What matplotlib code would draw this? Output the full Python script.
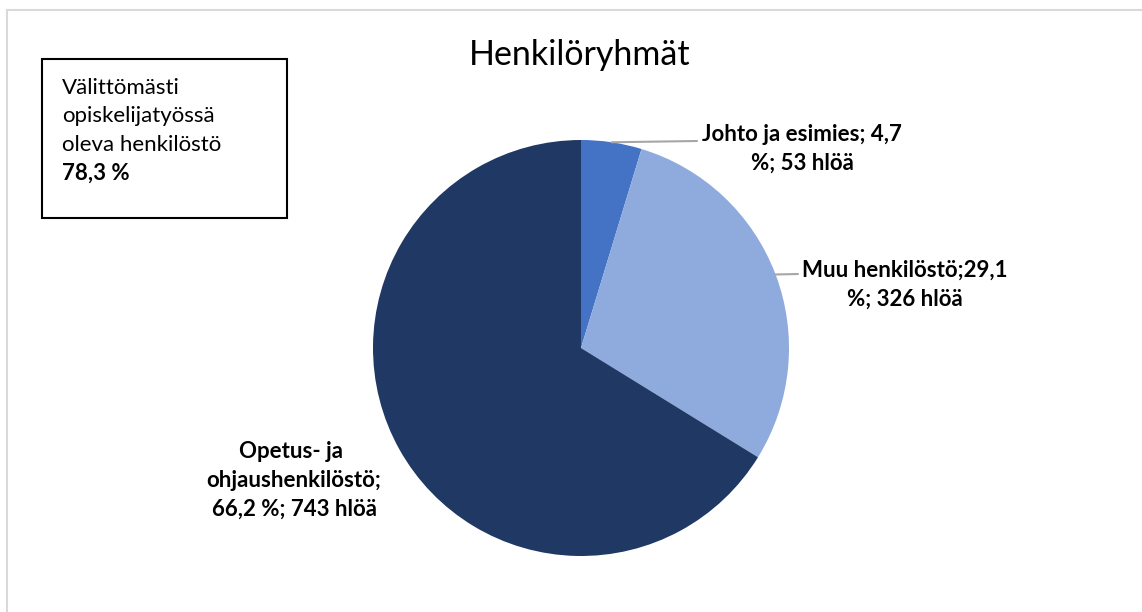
import matplotlib
matplotlib.use('Agg')
import matplotlib.pyplot as plt
import numpy as np
from matplotlib.patches import Rectangle
from matplotlib.lines import Line2D

# data
names = ['Johto ja esimies', 'Muu henkilöstö', 'Opetus- ja ohjaushenkilöstö']
shares = [4.7, 29.1, 66.2]
counts = [53, 326, 743]
colors = ['#4472C4', '#8FAADC', '#203864']
label_lines = [
    ['Johto ja esimies; 4,7', '%; 53 hlöä'],
    ['Muu henkilöstö;29,1', '%; 326 hlöä'],
    ['Opetus- ja ', 'ohjaushenkilöstö;', '66,2 %; 743 hlöä'],
]
box_lines = ['Välittömästi', 'opiskelijatyössä', 'oleva henkilöstö']
direct_share = '78,3 %'
title = 'Henkilöryhmät'

W, H = 1142, 612
plt.rcParams['font.family'] = ['Lato', 'DejaVu Sans']

fig = plt.figure(figsize=(W / 100, H / 100), dpi=100)


def px(x, y):
    # pixel coords from top-left -> figure fraction
    return x / W, 1 - y / H


# outer chart frame (only top/left visible)
fig.add_artist(Line2D([7 / W, 7 / W], [0, 1 - 9.5 / H], color='#D9D9D9', lw=1.5))
fig.add_artist(Line2D([7 / W, 1], [1 - 9.5 / H, 1 - 9.5 / H], color='#D9D9D9', lw=1.5))

# pie
cx, cy, r = 581, 348, 208
ax = fig.add_axes([(cx - r) / W, (H - cy - r) / H, 2 * r / W, 2 * r / H])
ax.pie(shares, colors=colors, startangle=90, counterclock=False, radius=1,
       wedgeprops=dict(linewidth=0))
ax.set_xlim(-1, 1)
ax.set_ylim(-1, 1)
ax.set_aspect('equal')
ax.axis('off')

# leader lines from slice mid-angles
cum = np.cumsum(shares) - np.array(shares) / 2
mids = np.deg2rad(90 - cum / 100 * 360)
leader_ends = [(697, 141), (798, 274)]
for i, end in enumerate(leader_ends):
    ax.annotate('', xy=(np.cos(mids[i]), np.sin(mids[i])), xycoords='data',
                xytext=(end[0], H - end[1]), textcoords='figure pixels',
                arrowprops=dict(arrowstyle='-', color='#A6A6A6', lw=1.5,
                                shrinkA=0, shrinkB=0))

# data labels: centre x and first baseline
label_pos = [(802, 141), (905, 277), (294, 458)]
line_step = 29
for lines, (x, y) in zip(label_lines, label_pos):
    for k, line in enumerate(lines):
        fig.text(*px(x, y + k * line_step), line, ha='center', va='baseline',
                 fontsize=16, fontweight='bold', color='black')

# title
fig.text(*px(580, 65), title, ha='center', va='baseline', fontsize=24.5,
         color='black')

# info box
fig.add_artist(Rectangle(px(42, 218), 245 / W, 159 / H, fill=False,
                         edgecolor='black', lw=1.5, transform=fig.transFigure))
for k, line in enumerate(box_lines):
    fig.text(*px(62, 94 + k * 28.5), line, ha='left', va='baseline',
             fontsize=16, color='black')
fig.text(*px(62, 180), direct_share, ha='left', va='baseline', fontsize=16,
         fontweight='bold', color='black')

fig.savefig('out.png', dpi=100)
